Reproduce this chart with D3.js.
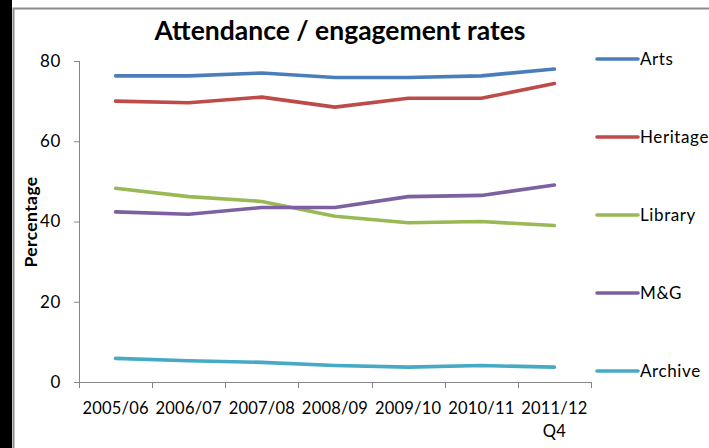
<!DOCTYPE html>
<html><head><meta charset="utf-8">
<script src="https://cdn.jsdelivr.net/npm/d3@7"></script>
<style>
body{margin:0;background:#fff;}
text{font-family:Lato,"Open Sans",sans-serif;fill:#000;}
</style></head>
<body><svg id="c" width="709" height="448"></svg>
<script>
const categories = ["2005/06","2006/07","2007/08","2008/09","2009/10","2010/11","2011/12 Q4"];
const seriesNames = ["Arts","Heritage","Library","M&G","Archive"];
const arts     = [76.3, 76.3, 77.0, 75.9, 75.9, 76.3, 78.0];
const heritage = [70.0, 69.6, 71.0, 68.5, 70.7, 70.7, 74.4];
const library  = [48.3, 46.2, 45.0, 41.3, 39.7, 40.0, 39.0];
const mg       = [42.4, 41.8, 43.5, 43.5, 46.2, 46.5, 49.1];
const archive  = [5.9, 5.3, 4.9, 4.1, 3.7, 4.1, 3.7];
const yTicks   = [0, 20, 40, 60, 80];
const colors   = ["#4A7EBB","#BE4B48","#98B954","#7D60A0","#46AAC5"];

const seriesData = [arts, heritage, library, mg, archive];
const svg = d3.select("#c");

// frame
svg.append("rect").attr("x",0).attr("y",0).attr("width",12).attr("height",448).attr("fill","#000");
svg.append("path").attr("d","M13.5,448V8.5H709").attr("fill","none").attr("stroke","#8c8c8c").attr("stroke-width",2);

const x = d3.scaleBand().domain(categories).range([79, 591]);
const y = d3.scaleLinear().domain([0, 80]).range([382, 61]);

const labelStyle = sel => sel.style("font-size","17px").style("letter-spacing","0.6px");

// axes
const yAxis = svg.append("g").attr("transform","translate(79,0)")
  .call(d3.axisLeft(y).tickValues(yTicks).tickSize(5).tickPadding(13));
yAxis.select(".domain").attr("stroke","#868686").attr("d","M-0,382.5H0.5V61");
yAxis.selectAll(".tick line").attr("stroke","#868686");
yAxis.selectAll(".tick text").call(labelStyle).style("font-family","Lato");

const xAxis = svg.append("g").attr("transform","translate(0,382)")
  .call(d3.axisBottom(x).tickSize(0).tickPadding(20));
xAxis.select(".domain").attr("stroke","#868686").attr("d","M79,0.5H591");
xAxis.selectAll(".tick text").style("font-size","16.5px").style("letter-spacing","0.2px")
  .style("font-family","Lato").text(null)
  .each(function(d){
    const parts = d.split(" ");
    const t = d3.select(this);
    parts.forEach((p,i)=>{
      t.append("tspan").attr("x",0).attr("dy", i===0 ? "0.71em" : "1.4em").text(p);
    });
  });
// category boundary ticks
const bounds = categories.map(c => x(c)).concat([x.range()[1]]);
svg.append("g").selectAll("line").data(bounds).join("line")
  .attr("x1",d=>Math.round(d)+0.5).attr("x2",d=>Math.round(d)+0.5)
  .attr("y1",382).attr("y2",388).attr("stroke","#868686");

// lines
const line = d3.line().x((d,i)=>x(categories[i]) + x.bandwidth()/2).y(d=>y(d));
svg.append("g").selectAll("path").data(seriesData).join("path")
  .attr("d", line).attr("fill","none")
  .attr("stroke",(d,i)=>colors[i]).attr("stroke-width",3.6)
  .attr("stroke-linecap","round").attr("stroke-linejoin","round");

// title
svg.append("text").attr("x",340).attr("y",40).attr("text-anchor","middle")
  .style("font-size","26.5px").style("font-weight","bold").text("Attendance / engagement rates");

// y title
svg.append("text").attr("transform","translate(37,222) rotate(-90)").attr("text-anchor","middle")
  .style("font-size","17.5px").style("font-weight","bold").style("letter-spacing","0.4px").text("Percentage");

// legend
const legY = d3.scaleLinear().domain([0, seriesNames.length-1]).range([59, 371]);
const leg = svg.append("g").selectAll("g").data(seriesNames).join("g")
  .attr("transform",(d,i)=>`translate(597,${legY(i)})`);
leg.append("line").attr("x1",0).attr("x2",41).attr("stroke",(d,i)=>colors[i])
  .attr("stroke-width",3.6).attr("stroke-linecap","round");
leg.append("text").attr("x",43).attr("dy","0.36em").call(labelStyle).text(d=>d);
</script></body></html>
